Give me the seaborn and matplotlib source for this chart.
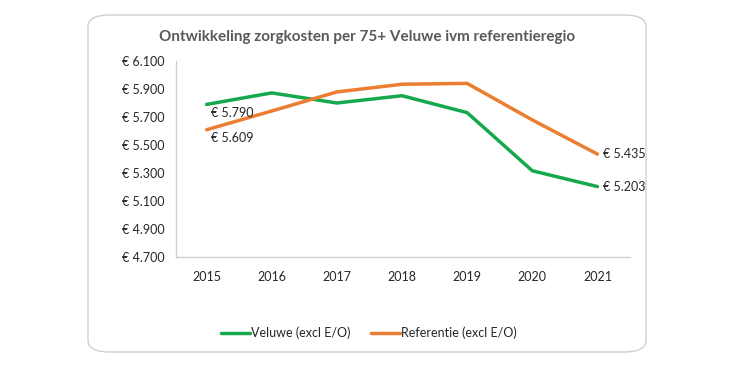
import matplotlib
matplotlib.use("Agg")
import matplotlib.pyplot as plt
from matplotlib.patches import FancyBboxPatch
from matplotlib.ticker import FuncFormatter
from matplotlib.lines import Line2D
import seaborn as sns
import pandas as pd

years = [2015, 2016, 2017, 2018, 2019, 2020, 2021]
veluwe = [5790, 5872, 5800, 5852, 5731, 5316, 5203]
referentie = [5609, 5743, 5879, 5934, 5940, 5679, 5435]
series_names = ["Veluwe (excl E/O)", "Referentie (excl E/O)"]
yticks = [4700, 4900, 5100, 5300, 5500, 5700, 5900, 6100]

df = pd.DataFrame({
    "jaar": years * 2,
    "kosten": veluwe + referentie,
    "reeks": [series_names[0]] * len(years) + [series_names[1]] * len(years),
})

sns.set_theme(style="white")
plt.rcParams["font.family"] = ["Lato", "DejaVu Sans"]

fig = plt.figure(figsize=(7.3, 3.87), dpi=100)
frame = FancyBboxPatch((88 / 730, 1 - 352 / 387), (646 - 88) / 730, (352 - 15) / 387,
                       boxstyle="round,pad=0,rounding_size=0.03",
                       transform=fig.transFigure, facecolor="white",
                       edgecolor="#d0d0d0", linewidth=1.0, zorder=-10)
fig.patches.append(frame)

ax = fig.add_axes([176 / 730, 1 - 257 / 387, (630 - 176) / 730, (257 - 61) / 387])
ax.set_facecolor("none")
ax.set_zorder(5)
palette = {series_names[0]: "#16A84C", series_names[1]: "#ED7D31"}
sns.lineplot(data=df, x="jaar", y="kosten", hue="reeks", palette=palette,
             linewidth=2.5, ax=ax, legend=False)

ax.set_xlim(years[0] - 0.47, years[-1] + 0.5)
ax.set_ylim(yticks[0], yticks[-1])
ax.set_yticks(yticks)
ax.set_xticks(years)
ax.set_xticklabels([str(y) for y in years])

def fmt(v, pos=None):
    s = f"{int(round(v)):,}".replace(",", ".")
    return f"€ {s}"

ax.yaxis.set_major_formatter(FuncFormatter(fmt))
ax.tick_params(axis="both", labelsize=9, colors="#262626", length=0, pad=8)
ax.tick_params(axis="x", pad=10)
ax.set_xlabel("")
ax.set_ylabel("")
for side in ["top", "right"]:
    ax.spines[side].set_visible(False)
for side in ["left", "bottom"]:
    ax.spines[side].set_color("#d0d0d0")
    ax.spines[side].set_linewidth(1)

# data labels
for vals in (veluwe, referentie):
    ax.annotate(fmt(vals[0]), (years[0], vals[0]), xytext=(3, -6), textcoords="offset points",
                fontsize=9, color="#262626", va="center", ha="left")
    ax.annotate(fmt(vals[-1]), (years[-1], vals[-1]), xytext=(4, 0), textcoords="offset points",
                fontsize=9, color="#262626", va="center", ha="left")

fig.text(367 / 730, 1 - 37 / 387, "Ontwikkeling zorgkosten per 75+ Veluwe ivm referentieregio",
         ha="center", va="center", fontsize=11, fontweight="bold", color="#595959")

handles = [Line2D([], [], color=palette[n], linewidth=2.5) for n in series_names]
fig.legend(handles, series_names, loc="center", bbox_to_anchor=(369 / 730, 1 - 333 / 387),
           ncol=2, frameon=False, fontsize=9, handlelength=2.3, handletextpad=0.1,
           columnspacing=1.6, labelcolor="#262626")

fig.savefig("out.png", dpi=100)
